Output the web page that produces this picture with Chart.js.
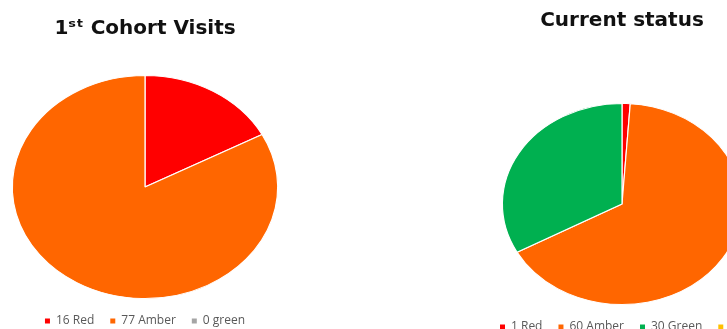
<!DOCTYPE html>
<html>
<head>
<meta charset="utf-8">
<script src="https://cdn.jsdelivr.net/npm/chart.js@4"></script>
<style>
  html, body { margin: 0; padding: 0; background: #fff; width: 727px; height: 329px; overflow: hidden; }
  #cohortChart { position: absolute; left: 0; top: 0; }
  #statusChart { position: absolute; left: 484px; top: 0; }
</style>
</head>
<body>
<canvas id="cohortChart" width="290" height="337"></canvas>
<canvas id="statusChart" width="440" height="343"></canvas>
<script>
// Data
const cohortLabels = ["Red", "Amber", "green"];
const cohortValues = [16, 77, 0];
const statusLabels = ["Red", "Amber", "Green", "Yellow"];
const statusValues = [1, 60, 30, 0];

const cohortColors = ["#ff0000", "#ff6600", "#a5a5a5"];
const statusColors = ["#ff0000", "#ff6600", "#00b050", "#ffc000"];

// the original pies are a bit wider than tall, so stretch them horizontally
const stretchPie = {
  id: "stretchPie",
  beforeDatasetsDraw(chart, args, opts) {
    const arc = chart.getDatasetMeta(0).data[0];
    const ctx = chart.ctx;
    ctx.save();
    ctx.translate(arc.x, arc.y);
    ctx.scale(opts.sx || 1, 1);
    ctx.translate(-arc.x, -arc.y);
  },
  afterDatasetsDraw(chart) {
    chart.ctx.restore();
  },
};

function legendLabels(chart) {
  const ds = chart.data.datasets[0];
  return chart.data.labels.map((label, i) => ({
    text: ds.data[i] + " " + label,
    fillStyle: ds.backgroundColor[i],
    strokeStyle: ds.backgroundColor[i],
    lineWidth: 0,
    fontColor: "#595959",
    index: i,
  }));
}

function pieOptions(title, titlePad, sx) {
  return {
    responsive: false,
    animation: false,
    plugins: {
      stretchPie: { sx: sx },
      tooltip: { enabled: false },
      title: {
        display: true,
        text: title,
        color: "#111111",
        font: { family: "'DejaVu Sans'", size: 20, weight: "bold" },
        padding: titlePad,
      },
      legend: {
        position: "bottom",
        align: "center",
        labels: {
          font: { family: "'Open Sans'", size: 12 },
          color: "#595959",
          boxWidth: 5,
          boxHeight: 5,
          padding: 16,
          generateLabels: legendLabels,
        },
      },
    },
  };
}

new Chart(document.getElementById("cohortChart"), {
  type: "pie",
  data: {
    labels: cohortLabels,
    datasets: [
      {
        data: cohortValues,
        backgroundColor: cohortColors,
        borderColor: "#ffffff",
        borderWidth: 1,
      },
    ],
  },
  options: pieOptions("1ˢᵗ Cohort Visits", { top: 17, bottom: 34 }, 1.19),
  plugins: [stretchPie],
});

// right chart runs off the page: the legend gets the full canvas width,
// while an empty right-hand subtitle keeps the pie and title centred on the left part
const statusOpts = pieOptions("Current status", { top: 9, bottom: 70 }, 1.19);
statusOpts.plugins.legend.align = "start";
statusOpts.plugins.title.fullSize = false;
statusOpts.plugins.subtitle = {
  display: true,
  text: " ",
  position: "right",
  fullSize: false,
  font: { size: 10 },
  padding: { top: 0, bottom: 152 },
};
new Chart(document.getElementById("statusChart"), {
  type: "pie",
  data: {
    labels: statusLabels,
    datasets: [
      {
        data: statusValues,
        backgroundColor: statusColors,
        borderColor: "#ffffff",
        borderWidth: 1,
      },
    ],
  },
  options: statusOpts,
  plugins: [stretchPie],
});
</script>
</body>
</html>
